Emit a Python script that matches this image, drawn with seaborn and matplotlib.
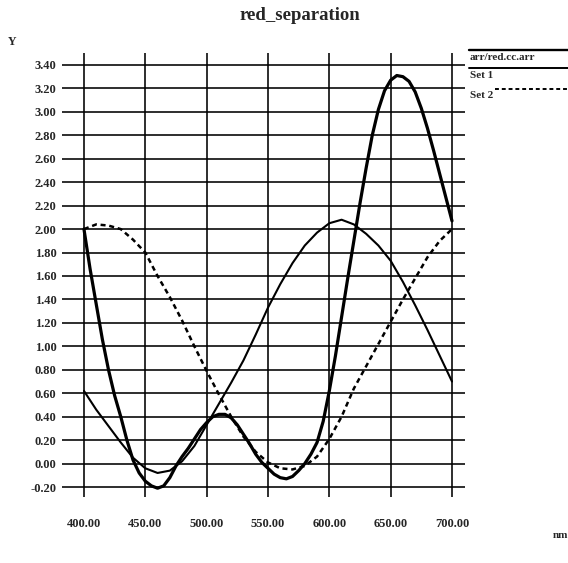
import numpy as np
import pandas as pd
import matplotlib
matplotlib.use("Agg")
import matplotlib.pyplot as plt
from matplotlib.lines import Line2D
import seaborn as sns

# wavelength grid (nm)
wavelength = [400, 410, 420, 430, 440, 450, 460, 470, 480, 490, 500,
              510, 520, 530, 540, 550, 560, 570, 580, 590, 600,
              610, 620, 630, 640, 650, 660, 670, 680, 690, 700]

# thick curve (sampled every 5 nm)
wl_fine = [400, 405, 410, 415, 420, 425, 430, 435, 440, 445, 450, 455,
           460, 465, 470, 475, 480, 485, 490, 495, 500, 505, 510, 515,
           520, 525, 530, 535, 540, 545, 550, 555, 560, 565, 570, 575,
           580, 585, 590, 595, 600, 605, 610, 615, 620, 625, 630, 635,
           640, 645, 650, 655, 660, 665, 670, 675, 680, 685, 690, 695, 700]
red_cc = [2.00, 1.66, 1.36, 1.06, 0.80, 0.58, 0.40, 0.20, 0.03, -0.08,
          -0.15, -0.19, -0.21, -0.19, -0.12, -0.02, 0.06, 0.13, 0.21, 0.29,
          0.35, 0.40, 0.42, 0.42, 0.39, 0.33, 0.25, 0.17, 0.08, 0.01,
          -0.04, -0.09, -0.12, -0.13, -0.11, -0.06, 0.00, 0.08, 0.18, 0.36,
          0.62, 0.92, 1.25, 1.58, 1.90, 2.22, 2.52, 2.80, 3.02, 3.18,
          3.27, 3.31, 3.30, 3.26, 3.17, 3.03, 2.86, 2.67, 2.47, 2.27, 2.07]

set1 = [0.62, 0.46, 0.32, 0.18, 0.05, -0.04, -0.08, -0.06, 0.02, 0.15, 0.33,
        0.51, 0.69, 0.88, 1.10, 1.33, 1.53, 1.71, 1.86, 1.97, 2.05,
        2.08, 2.04, 1.96, 1.86, 1.73, 1.55, 1.35, 1.14, 0.92, 0.70]

set2 = [2.00, 2.04, 2.03, 2.00, 1.91, 1.80, 1.60, 1.42, 1.22, 1.00, 0.79,
        0.59, 0.40, 0.23, 0.10, 0.01, -0.04, -0.05, -0.02, 0.06, 0.21,
        0.40, 0.64, 0.83, 1.02, 1.21, 1.40, 1.58, 1.76, 1.90, 2.00]

series_names = ["arr/red.cc.arr", "Set 1", "Set 2"]
x_ticks = [400, 450, 500, 550, 600, 650, 700]
y_ticks = [-0.2, 0.0, 0.2, 0.4, 0.6, 0.8, 1.0, 1.2, 1.4, 1.6, 1.8,
           2.0, 2.2, 2.4, 2.6, 2.8, 3.0, 3.2, 3.4]

sns.set_theme(style="white")
plt.rcParams["font.family"] = ["Liberation Serif", "DejaVu Serif"]
plt.rcParams["font.weight"] = "bold"

W, H = 568, 563
fig = plt.figure(figsize=(W / 100, H / 100), dpi=100)
fig.patch.set_facecolor("white")

def fx(px):
    return px / W

def fy(py):
    return 1 - py / H

ax = fig.add_axes([fx(62), fy(497), fx(465) - fx(62), fy(53) - fy(497)])
ax.set_facecolor("white")

df_thick = pd.DataFrame({"nm": wl_fine, "value": red_cc})
df_main = pd.DataFrame({"nm": wavelength, "Set 1": set1, "Set 2": set2})

dash = (0, (2.0, 1.5))
sns.lineplot(data=df_thick, x="nm", y="value", ax=ax, color="black",
             linewidth=2.3, zorder=3)
sns.lineplot(data=df_main, x="nm", y="Set 1", ax=ax, color="black",
             linewidth=1.5, zorder=3)
sns.lineplot(data=df_main, x="nm", y="Set 2", ax=ax, color="black",
             linewidth=1.8, linestyle=dash, zorder=3)

ax.set_xlim(382.1, 710.6)
ax.set_ylim(-0.285, 3.502)
ax.set_xticks(x_ticks)
ax.set_yticks(y_ticks)
ax.set_xticklabels([f"{v:.2f}" for v in x_ticks])
ax.set_yticklabels([f"{v:.2f}" for v in y_ticks])
ax.tick_params(axis="both", length=0, labelsize=9)
ax.tick_params(axis="y", pad=4)
ax.tick_params(axis="x", pad=15)
for lab in ax.get_xticklabels() + ax.get_yticklabels():
    lab.set_fontweight("bold")
ax.set_xlabel("")
ax.set_ylabel("")
ax.grid(True, color="black", linewidth=1.15)
for s in ax.spines.values():
    s.set_visible(False)

fig.text(fx(300), fy(15), "red_separation", ha="center", va="center",
         fontsize=13.5, fontweight="bold")
fig.text(fx(8), fy(42), "Y", ha="left", va="center", fontsize=8.5,
         fontweight="bold")
fig.text(fx(553), fy(535), "nm", ha="left", va="center", fontsize=8,
         fontweight="bold")

# legend block at the upper right
styles = [dict(lw=1.7, ls="-", x0=469), dict(lw=1.4, ls="-", x0=469),
          dict(lw=1.4, ls=dash, x0=495)]
line_y = [50, 68, 89]
text_y = [58, 76, 95]
for name, st, ly, ty in zip(series_names, styles, line_y, text_y):
    fig.add_artist(Line2D([fx(st["x0"]), fx(568)], [fy(ly), fy(ly)],
                          color="black", linewidth=st["lw"],
                          linestyle=st["ls"]))
    fig.text(fx(470), fy(ty), name, ha="left", va="center", fontsize=8,
             fontweight="bold")

fig.savefig("out.png", dpi=100, facecolor="white")
